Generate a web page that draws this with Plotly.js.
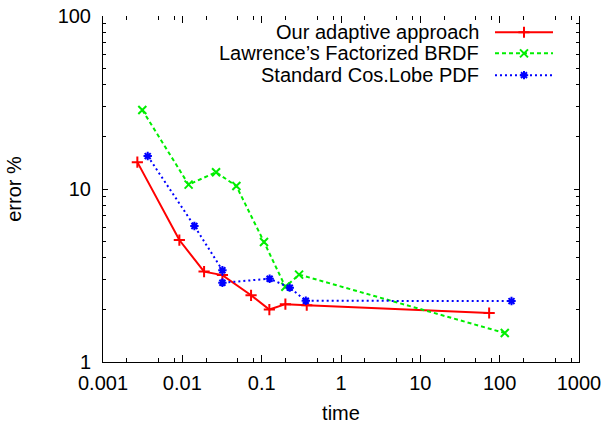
<!DOCTYPE html>
<html>
<head>
<meta charset="utf-8">
<script src="https://cdn.plot.ly/plotly-3.0.1.min.js"></script>
<style>
html,body{margin:0;padding:0;background:#fff;}
#chart{width:609px;height:424px;}
</style>
</head>
<body>
<div id="chart"></div>
<script>
// ---- data ----
const seriesNames = ["Our adaptive approach", "Lawrence\u2019s Factorized BRDF", "Standard Cos.Lobe PDF"];

const adaptiveTime  = [0.00271, 0.00917, 0.0188, 0.032, 0.0735, 0.125, 0.199, 0.37, 73.7];
const adaptiveError = [14.3, 5.07, 3.33, 3.18, 2.43, 2.01, 2.16, 2.13, 1.92];

const lawrenceTime  = [0.00313, 0.012, 0.0266, 0.048, 0.107, 0.199, 0.296, 116];
const lawrenceError = [28.6, 10.6, 12.5, 10.4, 4.94, 2.72, 3.2, 1.47];

const cosLobeTime   = [0.00366, 0.0142, 0.032, 0.032, 0.126, 0.226, 0.36, 141];
const cosLobeError  = [15.5, 6.11, 3.39, 2.87, 3.03, 2.69, 2.26, 2.25];

const xTickVals  = [0.001, 0.01, 0.1, 1, 10, 100, 1000];
const xTickText  = ["0.001", "0.01", "0.1", "1", "10", "100", "1000"];
const yTickVals  = [1, 10, 100];
const yTickText  = ["1", "10", "100"];
const xMinorDigits = [2, 5, 8];
const yMinorDigits = [2, 3, 4, 5, 6, 7, 8, 9];

// ---- styles ----
const colors  = ["#ff0000", "#00ee00", "#0000ff"];
const dashes  = ["solid", "4px,3px", "2px,3px"];
const symbols = ["cross-thin-open", "x-thin-open", "asterisk-open"];
const sizes   = [8, 8, 7];
const FONT = "Liberation Sans, Arial, Helvetica, sans-serif";

function minorVals(lo, hi, digits) {
  const out = [];
  for (let e = lo; e < hi; e++) digits.forEach(d => out.push(d * Math.pow(10, e)));
  return out;
}

const xs = [adaptiveTime, lawrenceTime, cosLobeTime];
const ys = [adaptiveError, lawrenceError, cosLobeError];

const traces = xs.map((x, i) => ({
  type: "scatter", mode: "lines+markers", cliponaxis: false,
  x: x, y: ys[i], name: seriesNames[i], showlegend: false,
  line: {color: colors[i], width: 2, dash: dashes[i]},
  marker: {symbol: symbols[i], size: sizes[i], color: colors[i],
           line: {color: colors[i], width: 2}}
}));

// legend key samples on a helper axis (drawn like gnuplot: text left, sample right)
const legendRowsY = [0.953, 0.892, 0.829];
legendRowsY.forEach((yy, i) => {
  traces.push({
    type: "scatter", mode: "lines", xaxis: "x3", yaxis: "y3",
    x: [0, 1], y: [yy, yy], showlegend: false, hoverinfo: "skip",
    line: {color: colors[i], width: 2, dash: dashes[i]}
  });
  traces.push({
    type: "scatter", mode: "markers", xaxis: "x3", yaxis: "y3",
    x: [0.5], y: [yy], showlegend: false, hoverinfo: "skip",
    marker: {symbol: symbols[i], size: sizes[i], color: colors[i],
             line: {color: colors[i], width: 2}}
  });
});

const annotations = seriesNames.map((n, i) => ({
  text: n, xref: "paper", yref: "paper", x: 0.794, y: legendRowsY[i],
  xanchor: "right", yanchor: "middle", showarrow: false,
  font: {family: FONT, size: 20, color: "#000"}
}));

const layout = {
  width: 609, height: 424,
  margin: {l: 103, r: 30, t: 16, b: 62},
  paper_bgcolor: "#fff", plot_bgcolor: "rgba(0,0,0,0)",
  font: {family: FONT, size: 20, color: "#000"},
  showlegend: false,
  xaxis: {
    type: "log", range: [-3, 3], showgrid: false, zeroline: false,
    showline: true, linecolor: "#000", linewidth: 1,
    ticks: "inside", ticklen: 7, tickcolor: "#000", ticklabelstandoff: 3,
    tickmode: "array", tickvals: xTickVals, ticktext: xTickText,
    minor: {tickmode: "array", tickvals: minorVals(-3, 3, xMinorDigits), ticks: "inside", ticklen: 4, tickcolor: "#000", showgrid: false},
    title: {text: "time", font: {family: FONT, size: 20}, standoff: 20},
    automargin: false
  },
  xaxis2: {
    type: "log", range: [-3, 3], overlaying: "x", side: "top",
    showgrid: false, zeroline: false, showline: false, showticklabels: false,
    ticks: "inside", ticklen: 7, tickcolor: "#000",
    tickmode: "array", tickvals: xTickVals,
    minor: {tickmode: "array", tickvals: minorVals(-3, 3, xMinorDigits), ticks: "inside", ticklen: 4, tickcolor: "#000", showgrid: false}
  },
  yaxis: {
    type: "log", range: [0, 2], showgrid: false, zeroline: false,
    showline: true, linecolor: "#000", linewidth: 1, mirror: "ticks",
    ticks: "inside", ticklen: 5, tickcolor: "#000", ticklabelstandoff: 7,
    tickmode: "array", tickvals: yTickVals, ticktext: yTickText,
    minor: {tickmode: "array", tickvals: minorVals(0, 2, yMinorDigits), ticks: "inside", ticklen: 3, tickcolor: "#000", showgrid: false},
    title: {text: "error %", font: {family: FONT, size: 20}, standoff: 30},
    automargin: false
  },
  xaxis3: {domain: [0.8235, 0.9454], range: [0, 1], visible: false, fixedrange: true, anchor: "y3"},
  yaxis3: {domain: [0, 1], range: [0, 1], visible: false, fixedrange: true, anchor: "x3"},
  annotations: annotations
};

// invisible trace so the mirrored top tick axis renders
traces.push({type: "scatter", mode: "markers", x: [xTickVals[0]], y: [yTickVals[0]], xaxis: "x2", yaxis: "y",
  marker: {opacity: 0}, showlegend: false, hoverinfo: "skip"});

Plotly.newPlot("chart", traces, layout, {displayModeBar: false, staticPlot: true});
</script>
</body>
</html>
